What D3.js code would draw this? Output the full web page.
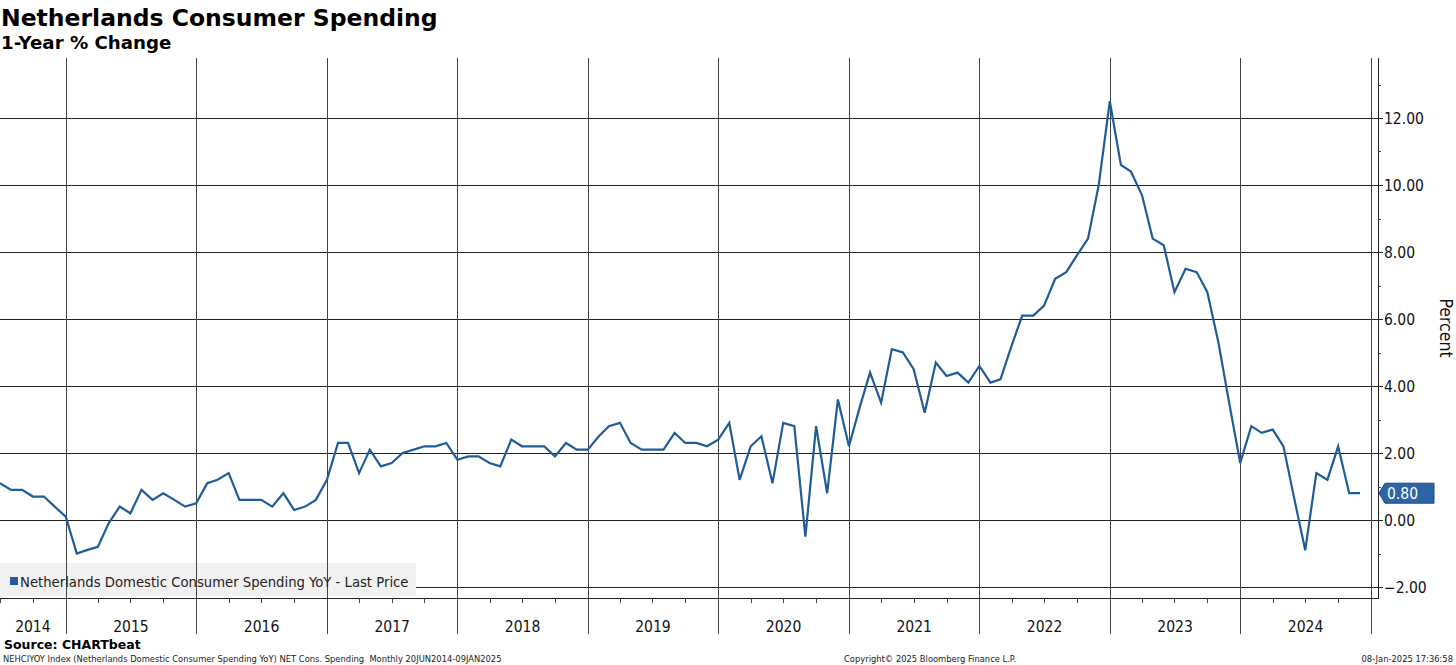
<!DOCTYPE html>
<html>
<head>
<meta charset="utf-8">
<script src="https://cdn.jsdelivr.net/npm/d3@7"></script>
<style>
  body { margin: 0; background: #fff; }
  svg { display: block; }
</style>
</head>
<body>
<div id="chart"></div>
<script>
// chart data
const seriesName = "Netherlands Domestic Consumer Spending YoY - Last Price"
const firstMonth = "2014-07"
const yoyValues = [
  1.1, 0.9, 0.9, 0.7, 0.7, 0.4, 0.1, -1.0, -0.9, -0.8, -0.1, 0.4,
  0.2, 0.9, 0.6, 0.8, 0.6, 0.4, 0.5, 1.1, 1.2, 1.4, 0.6, 0.6,
  0.6, 0.4, 0.8, 0.3, 0.4, 0.6, 1.2, 2.3, 2.3, 1.4, 2.1, 1.6,
  1.7, 2.0, 2.1, 2.2, 2.2, 2.3, 1.8, 1.9, 1.9, 1.7, 1.6, 2.4,
  2.2, 2.2, 2.2, 1.9, 2.3, 2.1, 2.1, 2.5, 2.8, 2.9, 2.3, 2.1,
  2.1, 2.1, 2.6, 2.3, 2.3, 2.2, 2.4, 2.9, 1.2, 2.2, 2.5, 1.1,
  2.9, 2.8, -0.5, 2.8, 0.8, 3.6, 2.2, 3.4, 4.4, 3.5, 5.1, 5.0,
  4.5, 3.2, 4.7, 4.3, 4.4, 4.1, 4.6, 4.1, 4.2, 5.2, 6.1, 6.1,
  6.4, 7.2, 7.4, 7.9, 8.4, 10.0, 12.5, 10.6, 10.4, 9.7, 8.4, 8.2,
  6.8, 7.5, 7.4, 6.8, 5.3, 3.5, 1.7, 2.8, 2.6, 2.7, 2.2, 0.6,
  -0.9, 1.4, 1.2, 2.2, 0.8, 0.8
]
const yearLabels = ["2014", "2015", "2016", "2017", "2018", "2019", "2020", "2021", "2022", "2023", "2024"]
const yTicks = [-2, 0, 2, 4, 6, 8, 10, 12]
const yMinorTicks = [-1, 1, 3, 5, 7, 9, 11, 13]
const lastValue = 0.80

const W = 1456, H = 665
const plot = {left: 0, right: 1378, top: 58, bottom: 598}
const gridRight = 1371
const blue = "#1f5c99"
const labelFont = "'DejaVu Sans Condensed', 'DejaVu Sans', sans-serif"
const boldFont = "'DejaVu Sans', Verdana, sans-serif"

const svg = d3.select("#chart").append("svg")
    .attr("width", W)
    .attr("height", H)

const parseMonth = d3.timeParse("%Y-%m")
const start = parseMonth(firstMonth)
const data = yoyValues.map((v, i) => ({date: d3.timeMonth.offset(start, i), value: v}))

// scales
const x = d3.scaleTime()
    .domain([start, new Date(2025, 0, 1)])
    .range([plot.left, gridRight])

const y = d3.scaleLinear()
    .domain([-2, 12])
    .range([587, 118])

// horizontal grid
svg.append("g")
  .selectAll("line")
  .data(yTicks)
  .join("line")
    .attr("x1", plot.left)
    .attr("x2", plot.right)
    .attr("y1", d => Math.round(y(d)) + 0.5)
    .attr("y2", d => Math.round(y(d)) + 0.5)
    .attr("stroke", "#222")
    .attr("stroke-width", 1)

// legend background (hides the horizontal grid only)
svg.append("rect")
    .attr("x", 0).attr("y", 563)
    .attr("width", 416).attr("height", 33)
    .attr("fill", "#f1f1f1")

// vertical year lines, run down through the axis band
const yearStarts = d3.timeYear.range(new Date(2015, 0, 1), new Date(2025, 0, 2))
svg.append("g")
  .selectAll("line")
  .data(yearStarts)
  .join("line")
    .attr("x1", d => Math.round(x(d)) + 0.5)
    .attr("x2", d => Math.round(x(d)) + 0.5)
    .attr("y1", plot.top)
    .attr("y2", 634)
    .attr("stroke", "#444")
    .attr("stroke-width", 1)

// bottom axis line and quarterly ticks
svg.append("line")
    .attr("x1", plot.left).attr("x2", plot.right)
    .attr("y1", plot.bottom + 0.5).attr("y2", plot.bottom + 0.5)
    .attr("stroke", "#222")

const quarters = d3.timeMonth.every(3).range(start, new Date(2025, 0, 1))
    .filter(d => d.getMonth() !== 0)
svg.append("g")
  .selectAll("line")
  .data(quarters)
  .join("line")
    .attr("x1", d => Math.round(x(d)) + 0.5)
    .attr("x2", d => Math.round(x(d)) + 0.5)
    .attr("y1", plot.bottom)
    .attr("y2", plot.bottom + 5)
    .attr("stroke", "#444")

// year labels, centred in each year band
svg.append("g")
  .selectAll("text")
  .data(yearLabels)
  .join("text")
    .attr("x", d => {
      const a = Math.max(x(new Date(+d, 0, 1)), plot.left)
      const b = x(new Date(+d + 1, 0, 1))
      return (a + b) / 2
    })
    .attr("y", 632)
    .attr("text-anchor", "middle")
    .attr("font-family", labelFont)
    .attr("font-size", 15.5)
    .attr("fill", "#111")
    .text(d => d)

// right axis
svg.append("line")
    .attr("x1", plot.right + 0.5).attr("x2", plot.right + 0.5)
    .attr("y1", plot.top).attr("y2", plot.bottom + 1)
    .attr("stroke", "#222")

svg.append("g")
  .selectAll("line")
  .data(yTicks)
  .join("line")
    .attr("x1", plot.right).attr("x2", plot.right + 5)
    .attr("y1", d => Math.round(y(d)) + 0.5)
    .attr("y2", d => Math.round(y(d)) + 0.5)
    .attr("stroke", "#222")

svg.append("g")
  .selectAll("line")
  .data(yMinorTicks)
  .join("line")
    .attr("x1", plot.right).attr("x2", plot.right + 3)
    .attr("y1", d => Math.round(y(d)) + 0.5)
    .attr("y2", d => Math.round(y(d)) + 0.5)
    .attr("stroke", "#444")

svg.append("g")
  .selectAll("text")
  .data(yTicks)
  .join("text")
    .attr("x", plot.right + 6)
    .attr("y", d => y(d) + 5.5)
    .attr("font-family", labelFont)
    .attr("font-size", 15.5)
    .attr("fill", "#111")
    .text(d => d3.format(".2f")(d))

svg.append("text")
    .attr("transform", "translate(1440,328) rotate(90)")
    .attr("text-anchor", "middle")
    .attr("font-family", labelFont)
    .attr("font-size", 17.5)
    .attr("fill", "#111")
    .text("Percent")

// the series
const line = d3.line()
    .x(d => x(d.date))
    .y(d => y(d.value))

svg.append("path")
    .datum(data)
    .attr("fill", "none")
    .attr("stroke", blue)
    .attr("stroke-width", 2.2)
    .attr("stroke-linejoin", "miter")
    .attr("d", line)

// last price tag
const ty = y(lastValue)
svg.append("path")
    .attr("d", `M${plot.right + 1},${ty} L${plot.right + 7},${ty - 10} L1434,${ty - 10} L1434,${ty + 10} L${plot.right + 7},${ty + 10} Z`)
    .attr("fill", "#2b65a3")
    .attr("stroke", "#1a4d85")
    .attr("stroke-width", 1)

svg.append("text")
    .attr("x", plot.right + 9)
    .attr("y", ty + 6)
    .attr("font-family", labelFont)
    .attr("font-size", 15.5)
    .attr("fill", "#fff")
    .text(d3.format(".2f")(lastValue))

// legend
svg.append("rect")
    .attr("x", 10).attr("y", 577)
    .attr("width", 8).attr("height", 8)
    .attr("fill", blue)

svg.append("text")
    .attr("x", 20).attr("y", 587)
    .attr("font-family", labelFont)
    .attr("font-size", 14.7)
    .attr("fill", "#222")
    .text(seriesName)

// titles
svg.append("text")
    .attr("x", 1).attr("y", 26)
    .attr("font-family", boldFont)
    .attr("font-weight", "bold")
    .attr("font-size", 23.5)
    .attr("fill", "#000")
    .text("Netherlands Consumer Spending")

svg.append("text")
    .attr("x", 1).attr("y", 49)
    .attr("font-family", boldFont)
    .attr("font-weight", "bold")
    .attr("font-size", 18.2)
    .attr("fill", "#000")
    .text("1-Year % Change")

// footer
svg.append("text")
    .attr("x", 4).attr("y", 649)
    .attr("font-family", boldFont)
    .attr("font-weight", "bold")
    .attr("font-size", 12.5)
    .attr("fill", "#000")
    .text("Source: CHARTbeat")

svg.append("text")
    .attr("x", 3).attr("y", 662)
    .attr("font-family", labelFont)
    .attr("font-size", 9.3)
    .attr("fill", "#222")
    .attr("xml:space", "preserve")
    .text("NEHCIYOY Index (Netherlands Domestic Consumer Spending YoY) NET Cons. Spending  Monthly 20JUN2014-09JAN2025")

svg.append("text")
    .attr("x", 844).attr("y", 662)
    .attr("font-family", labelFont)
    .attr("font-size", 9.3)
    .attr("fill", "#222")
    .text("Copyright\u00a9 2025 Bloomberg Finance L.P.")

svg.append("text")
    .attr("x", 1453).attr("y", 662)
    .attr("text-anchor", "end")
    .attr("font-family", labelFont)
    .attr("font-size", 9.3)
    .attr("fill", "#222")
    .text("08-Jan-2025 17:36:58")
</script>
</body>
</html>
